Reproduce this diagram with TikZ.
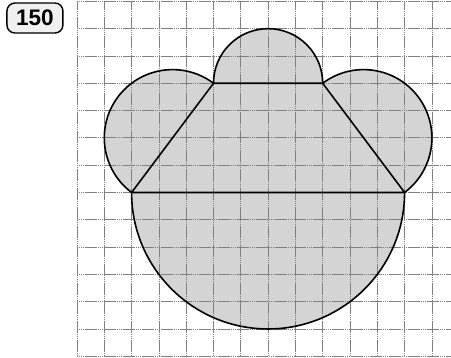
\documentclass[tikz,border=0pt]{standalone}
\usepackage{fontspec}
\newfontfamily\labelfont{Liberation Sans}
\begin{document}
\begin{tikzpicture}[x=27.3pt,y=27.3pt,
  gridline/.style={draw=black!50,line width=0.75pt,dash pattern=on 1.5pt off 0.4pt},
  shapefill/.style={fill=black!17},
  outline/.style={draw=black,line width=1.6pt,line join=round},
  numbox/.style={draw=black,line width=1.4pt,rounded corners=8pt,fill=black!6,
    minimum width=56pt,minimum height=30pt,inner sep=0pt,
    font=\labelfont\bfseries\fontsize{22.5}{22.5}\selectfont}]
\useasboundingbox (-2.82,-0.06) rectangle (13.70,13.05);
% corners of the trapezoid
\coordinate (A) at (2,6);
\coordinate (B) at (12,6);
\coordinate (C) at (9,10);
\coordinate (D) at (5,10);
% filled region
\path[shapefill] (A) arc[start angle=233.13,end angle=53.13,radius=2.5]
  arc[start angle=180,end angle=0,radius=2]
  arc[start angle=126.87,end angle=-53.13,radius=2.5]
  arc[start angle=0,end angle=-180,radius=5] -- cycle;
% grid
\foreach \i in {0,...,13}{
  \draw[gridline] (\i,0) -- (\i,13);
  \draw[gridline] (0,\i) -- (13.70,\i);
}
% outlines
\draw[outline] (A) arc[start angle=233.13,end angle=53.13,radius=2.5]
  arc[start angle=180,end angle=0,radius=2]
  arc[start angle=126.87,end angle=-53.13,radius=2.5]
  arc[start angle=0,end angle=-180,radius=5] -- cycle;
\draw[outline] (A) -- (D) -- (C) -- (B) -- (A);
% label
\node[numbox] (num) at (-1.54,12.39) {150};
\end{tikzpicture}
\end{document}
